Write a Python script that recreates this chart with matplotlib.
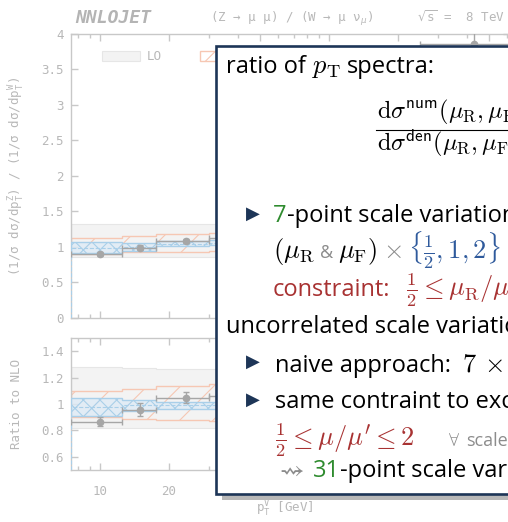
import numpy as np
import matplotlib
matplotlib.use("Agg")
import matplotlib.pyplot as plt
from matplotlib.patches import Rectangle, Patch
from matplotlib.lines import Line2D
from matplotlib.ticker import FixedLocator, FuncFormatter, MultipleLocator

W, H = 508, 522

# bins in pT (GeV), only the first ones are not hidden by the text box
edges = [7.5, 12.5, 17.5, 30, 50, 100, 250, 700]

# top panel: (1/s ds/dpT^Z) / (1/s ds/dpT^W)
lo_up = [1.32, 1.32, 1.32, 1.32, 1.40, 1.75, 2.40]
lo_dn = [0.85, 0.85, 0.85, 0.86, 0.95, 1.25, 1.80]
nlo_up = [1.12, 1.15, 1.175, 1.19, 1.30, 1.80, 2.70]
nlo_dn = [0.90, 0.92, 0.93, 0.94, 1.05, 1.45, 2.10]
nnlo_up = [1.06, 1.05, 1.08, 1.09, 1.22, 1.70, 2.55]
nnlo_dn = [0.91, 0.945, 1.01, 1.02, 1.12, 1.55, 2.30]
nnlo_c = [0.985, 0.997, 1.045, 1.055, 1.17, 1.62, 2.42]

data_x = [10, 15, 23.75, 40, 75, 175, 430]
data_y = [0.90, 0.985, 1.08, 1.12, 1.25, 1.90, 3.86]
data_err = [0.03, 0.035, 0.03, 0.03, 0.05, 0.10, 0.20]

# bottom panel: ratio to NLO
r_lo_up = [1.28, 1.275, 1.27, 1.27, 1.26, 1.25, 1.25]
r_lo_dn = [0.82, 0.82, 0.82, 0.82, 0.83, 0.84, 0.85]
r_nlo_up = [1.10, 1.115, 1.135, 1.15, 1.14, 1.13, 1.12]
r_nlo_dn = [0.905, 0.89, 0.88, 0.875, 0.88, 0.89, 0.90]
r_nnlo_up = [1.05, 1.03, 1.02, 1.02, 1.02, 1.03, 1.03]
r_nnlo_dn = [0.91, 0.95, 0.96, 0.96, 0.96, 0.96, 0.96]
r_nnlo_c = [0.98, 0.99, 0.99, 0.99, 0.99, 0.995, 0.995]
r_data = [0.868, 0.958, 1.05, 1.065, 1.04, 1.02, 1.05]
r_data_err = [0.035, 0.05, 0.04, 0.04, 0.05, 0.06, 0.08]

xticks = [10, 20, 50, 100, 200, 500]
xminor = [8, 9, 30, 40, 60, 70, 80, 90, 300, 400, 600]

# faded chart colours
AXC = '#c8c8c8'
TXT = '#b8b8b8'
DATAC = '#a6a6a6'
LO_F, LO_E = '#f3f3f3', '#e6e6e6'
NLO_E = '#f6c7b3'
NNLO_F, NNLO_E = '#deebf6', '#a9cfe9'

NAVY = '#1d3557'
GREEN = '#2e8b2e'
RED = '#a83232'
BLUE = '#2f5a9c'
GRAY = '#8c8c8c'

plt.rcParams['font.family'] = ['DejaVu Sans Mono']
plt.rcParams['mathtext.fontset'] = 'cm'
plt.rcParams['hatch.linewidth'] = 0.8

fig = plt.figure(figsize=(W / 100, H / 100), dpi=100)

def fx(px):
    return px / W

def fy(py):
    return 1 - py / H

x_left, x_right = 71.4, 510
decade = 229.0
xmax = edges[0] * 10 ** ((x_right - x_left) / decade)

ax1 = fig.add_axes([fx(x_left), fy(317.7), (x_right - x_left) / W, (317.7 - 33.7) / H])
ax2 = fig.add_axes([fx(x_left), fy(470), (x_right - x_left) / W, (470 - 338.3) / H])

xc = np.array(data_x)
xl = xc - np.array(edges[:-1])
xh = np.array(edges[1:]) - xc


def draw_panel(ax, lo_u, lo_d, nlo_u, nlo_d, nn_u, nn_d, nn_c, dy, de):
    ax.stairs(lo_u, edges, baseline=lo_d, fill=True, facecolor=LO_F, edgecolor=LO_E, lw=0.8, zorder=1)
    ax.stairs(nlo_u, edges, baseline=nlo_d, fill=True, facecolor='none', edgecolor=NLO_E,
              hatch='/', lw=1.0, zorder=2)
    ax.stairs(nn_u, edges, baseline=nn_d, fill=True, facecolor=NNLO_F, edgecolor='none', alpha=0.8, zorder=3)
    ax.stairs(nn_u, edges, baseline=nn_d, fill=True, facecolor='none', edgecolor=NNLO_E,
              hatch='xx', lw=1.0, zorder=4)
    ax.stairs(nn_c, edges, color=NNLO_E, ls='--', lw=0.8, zorder=4)
    ax.errorbar(xc, dy, xerr=[xl, xh], yerr=de, fmt='o', color=DATAC, ms=4.5,
                capsize=2.5, lw=1.0, zorder=5)
    ax.set_xscale('log')
    ax.set_xlim(edges[0], xmax)
    ax.xaxis.set_major_locator(FixedLocator(xticks))
    ax.xaxis.set_minor_locator(FixedLocator(xminor))
    ax.tick_params(which='both', direction='in', top=True, right=True, color=AXC,
                   labelcolor=TXT, labelsize=9)
    ax.tick_params(which='major', length=5, width=1.0)
    ax.tick_params(which='minor', length=3, width=1.0)
    ax.tick_params(axis='y', pad=5.3)
    ax.tick_params(axis='x', pad=11)
    for sp in ax.spines.values():
        sp.set_color(AXC)
        sp.set_linewidth(1.0)
    ax.yaxis.set_major_formatter(FuncFormatter(lambda v, _: f'{v:g}'))


draw_panel(ax1, lo_up, lo_dn, nlo_up, nlo_dn, nnlo_up, nnlo_dn, nnlo_c, data_y, data_err)
draw_panel(ax2, r_lo_up, r_lo_dn, r_nlo_up, r_nlo_dn, r_nnlo_up, r_nnlo_dn, r_nnlo_c, r_data, r_data_err)

ax1.set_ylim(0, 4)
ax1.yaxis.set_major_locator(MultipleLocator(0.5))
ax1.tick_params(axis='x', labelbottom=False)
ax2.set_ylim(0.5, 1.5)
ax2.yaxis.set_major_locator(FixedLocator([0.6, 0.8, 1.0, 1.2, 1.4]))
ax2.xaxis.set_major_formatter(FuncFormatter(lambda v, _: f'{v:g}'))

handles = [
    Patch(facecolor=LO_F, edgecolor=LO_E, lw=0.8),
    Patch(facecolor='none', edgecolor=NLO_E, hatch='/', lw=1.0),
    Patch(facecolor=NNLO_F, edgecolor=NNLO_E, hatch='xx', lw=1.0),
    Line2D([], [], color=DATAC, marker='o', ms=4.5),
]
ax1.legend(handles, ['LO', 'NLO', 'NNLO', 'data'], ncol=4, frameon=False, loc='center left',
           bbox_to_anchor=((102 - x_left) / (x_right - x_left), (317.7 - 57) / 284),
           borderpad=0, borderaxespad=0, handlelength=3.04, handleheight=0.8,
           handletextpad=0.56, columnspacing=3.0, labelcolor=TXT, fontsize=9)

# chart labels
fig.text(fx(75), fy(22.7), 'NNLOJET', color='#b4b4b4', fontsize=13, fontweight='bold',
         style='italic', va='baseline')
fig.text(fx(210), fy(22), r'(Z → μ μ) / (W → μ ν$_\mu$)', color=TXT, fontsize=9,
         va='baseline', math_fontfamily='dejavusans')
fig.text(fx(505), fy(22), r'$\sqrt{\mathtt{s}}$ =  8 TeV', color=TXT, fontsize=9,
         ha='right', va='baseline', math_fontfamily='dejavusans')
fig.text(fx(17), fy(176), r'(1/σ dσ/dp$_\mathtt{T}^\mathtt{Z}$) / (1/σ dσ/dp$_\mathtt{T}^\mathtt{W}$)',
         color=TXT, fontsize=9, rotation=90, ha='center', va='center', math_fontfamily='dejavusans')
fig.text(fx(17), fy(404), 'Ratio to NLO', color=TXT, fontsize=9, rotation=90,
         ha='center', va='center')
fig.text(fx(285), fy(509), r'p$_\mathtt{T}^\mathtt{V}$ [GeV]', color=TXT, fontsize=9,
         ha='center', va='center', math_fontfamily='dejavusans')

# overlay text box
box_l, box_t, box_b = 216, 45.5, 494
fig.add_artist(Rectangle((fx(box_l + 6), fy(box_b + 6)), 1, (box_b - box_t) / H,
                         transform=fig.transFigure, facecolor='#b8b8b8', edgecolor='none', zorder=9))
fig.add_artist(Rectangle((fx(box_l), fy(box_b)), 1, (box_b - box_t) / H,
                         transform=fig.transFigure, facecolor='white', edgecolor=NAVY,
                         lw=1.9, zorder=10))

BODY = 17
MATH = 19
rend = fig.canvas.get_renderer()


def put(x, y, s, color='black', size=BODY, **kw):
    kw.setdefault('family', 'Open Sans')
    t = fig.text(fx(x), fy(y), s, color=color, fontsize=size, ha='left', va='baseline',
                 zorder=11, **kw)
    return x + t.get_window_extent(rend).width


def bullet(y):
    fig.text(fx(252.5), fy(y), '▶', color=NAVY, fontsize=13, family='DejaVu Sans',
             ha='center', va='center', zorder=11)


x = put(226, 73, 'ratio of')
x = put(x + 6, 73, r'$p_\mathrm{T}$', size=MATH)
put(x + 6, 73, 'spectra:')
put(377, 118, r'$\mathrm{d}\sigma^{\mathsf{num}}(\mu_\mathrm{R},\mu_\mathrm{F})$', size=17.5)
put(377, 150, r'$\mathrm{d}\sigma^{\mathsf{den}}(\mu_\mathrm{R},\mu_\mathrm{F})$', size=17.5)
fig.add_artist(Line2D([fx(376), 1.1], [fy(130), fy(130)], transform=fig.transFigure,
                      color='black', lw=0.8, zorder=11))

bullet(214)
x = put(273, 221.7, '7', color=GREEN)
put(x, 221.7, '-point scale variation')

x = put(273, 258, r'$(\mu_\mathrm{R}$', size=MATH)
x = put(x + 5, 258, '&', color=GRAY, size=13)
x = put(x + 5, 258, r'$\mu_\mathrm{F})$', size=MATH)
x = put(x + 6, 258, r'$\times$', color=GRAY, size=MATH)
put(x + 6, 258, r'$\{\frac{1}{2},1,2\}$', color=BLUE, size=MATH)

x = put(273, 296, 'constraint:', color=RED)
put(x + 16, 296, r'$\frac{1}{2}\leq\mu_\mathrm{R}/\mu_\mathrm{F}\leq 2$', color=RED, size=MATH)

put(226, 333, 'uncorrelated scale variations')

bullet(362)
x = put(275, 371.7, 'naive approach:')
x = put(x + 11, 371.7, r'$7$', size=MATH)
x = put(x + 7, 371.7, r'$\times$', size=MATH)
put(x + 6, 371.7, r'$7$', size=MATH)

bullet(400)
put(275, 408.3, 'same contraint to exclude')

put(275, 446.7, r"$\frac{1}{2}\leq\mu/\mu'\leq 2$", color=RED, size=MATH)
x = put(448, 446, r'$\forall$', color=GRAY, size=13)
put(x + 6, 446, 'scales', color=GRAY, size=13)

x = put(275, 476.7, r'$\leadsto$', color=GRAY, size=MATH)
x = put(x + 8, 476.7, '31', color=GREEN)
put(x, 476.7, '-point scale variations')

fig.savefig('out.png', dpi=100)
